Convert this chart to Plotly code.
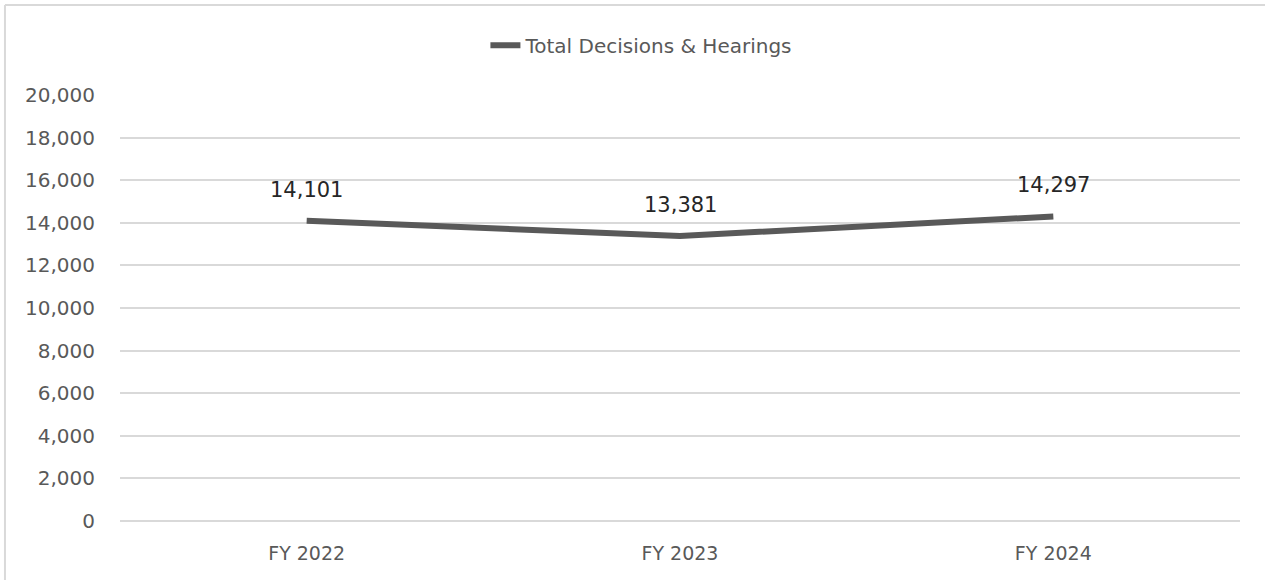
import plotly.graph_objects as go

categories = ["FY 2022", "FY 2023", "FY 2024"]
values = [14101, 13381, 14297]
series_name = "Total Decisions & Hearings"
y_ticks = [0, 2000, 4000, 6000, 8000, 10000, 12000, 14000, 16000, 18000, 20000]

FONT = "DejaVu Sans"

fig = go.Figure()
fig.add_trace(go.Scatter(
    x=categories, y=values, mode="lines", name=series_name,
    line=dict(color="#595959", width=6),
    showlegend=True,
))

for c, v in zip(categories, values):
    fig.add_annotation(x=c, y=v, text=f"{v:,}", showarrow=False,
                       yanchor="middle", yshift=31,
                       font=dict(family=FONT, size=21, color="#262626"))

# chart frame (left and top edges visible)
fig.add_shape(type="line", xref="paper", yref="paper",
              x0=-0.1027, x1=-0.1027, y0=-0.3, y1=1.2113,
              line=dict(color="#d9d9d9", width=2), layer="below")
fig.add_shape(type="line", xref="paper", yref="paper",
              x0=-0.1027, x1=1.2, y0=1.2113, y1=1.2113,
              line=dict(color="#d9d9d9", width=2), layer="below")

fig.update_layout(
    width=1265, height=580,
    margin=dict(l=120, r=25, t=95, b=59),
    paper_bgcolor="white", plot_bgcolor="white",
    font=dict(family=FONT, color="#595959", size=18),
    legend=dict(orientation="h", x=0.466, xanchor="center", y=1.117, yanchor="middle",
                font=dict(family=FONT, size=20, color="#595959"),
                bgcolor="rgba(0,0,0,0)"),
    xaxis=dict(type="category", range=[-0.5, 2.5], showgrid=False,
               showline=False, ticks="outside", ticklen=15, tickcolor="rgba(0,0,0,0)",
               tickfont=dict(family=FONT, size=19, color="#595959"), zeroline=False),
    yaxis=dict(range=[0, 20000], tickvals=y_ticks, tickformat=",",
               showgrid=True, gridcolor="#d9d9d9", gridwidth=1.5,
               showline=False, zeroline=True, zerolinecolor="#d9d9d9", zerolinewidth=1.5,
               ticks="outside", ticklen=20, tickcolor="rgba(0,0,0,0)",
               tickfont=dict(family=FONT, size=20, color="#595959")),
)

fig.write_html("out.html", config={"displayModeBar": False},
               post_script="document.body.style.margin='0';document.body.style.overflow='hidden';")
